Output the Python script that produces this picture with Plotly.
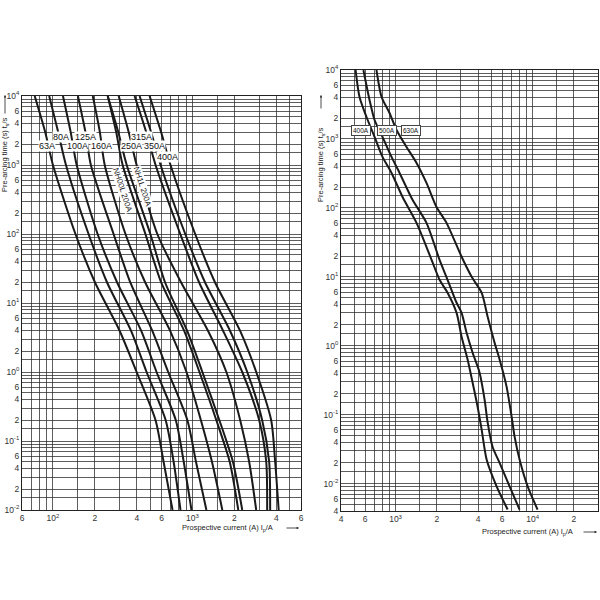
import math
import plotly.graph_objects as go

# ---------------- data: left chart (gG fuses 63A..400A) ----------------
times_left = [10000, 3000, 1000, 100, 20, 4, 1, 0.2, 0.05, 0.01]
left_names = ["63A", "80A", "100A", "125A", "160A", "NH00L 200A", "NH1L 200A",
              "250A", "315A", "350A", "400A"]
cur_63 = [74, 88, 100, 145, 200, 300, 398, 544, 621, 720]
cur_80 = [94, 109, 124, 180, 244, 362, 469, 643, 733, 821]
cur_100 = [118, 134, 148, 209, 288, 428, 553, 760, 866, 984]
cur_125 = [151, 171, 187, 272, 358, 514, 670, 920, 1060, 1259]
cur_160 = [193, 217, 235, 331, 458, 690, 906, 1150, 1380, 1638]
cur_nh00 = [247, 284, 316, 460, 596, 870, 1122, 1484, 1850, 2131]
cur_nh1 = [247, 294, 338, 499, 636, 914, 1178, 1560, 1950, 2275]
cur_250 = [296, 349, 398, 560, 828, 1290, 1750, 2200, 2550, 2865]
cur_315 = [385, 466, 544, 818, 1115, 1655, 2275, 3010, 3380, 3433]
cur_350 = [418, 505, 591, 888, 1230, 1855, 2471, 3162, 3548, 3606]
cur_400 = [493, 596, 696, 1046, 1450, 2190, 2865, 3668, 3917, 4150]
left_currents = [cur_63, cur_80, cur_100, cur_125, cur_160, cur_nh00, cur_nh1,
                 cur_250, cur_315, cur_350, cur_400]

# label anchor points (current A, time s) on the left chart
lbl_text = ["63A", "80A", "100A", "125A", "160A", "250A", "315A", "350A", "400A"]
lbl_I = [91, 114, 149, 172, 224, 368, 434, 538, 667]
lbl_t = [1884, 2547, 1884, 2547, 1884, 1884, 2547, 1884, 1306]
rot_text = ["NH00L 200A", "NH1L 200A"]
rot_I = [318, 434]
rot_t = [434, 480]

# ---------------- data: right chart (400A..630A) ----------------
r_names = ["400A", "500A", "630A"]
r_t_400 = [10000, 4060, 2080, 1070, 548, 321, 144, 60.6, 17.6, 9.05, 5.87, 3.0, 1.35,
           0.63, 0.29, 0.13, 0.061, 0.0223, 0.0091, 0.0042]
r_i_400 = [511, 546, 614, 703, 803, 935, 1125, 1423, 1832, 2095, 2397, 2788, 3033,
           3355, 3651, 3970, 4246, 4618, 5461, 6574]
r_t_500 = [10000, 3670, 1880, 1070, 548, 321, 131, 60.6, 17.6, 9.05, 4.2, 3.0, 1.54,
           0.79, 0.41, 0.165, 0.077, 0.034, 0.020, 0.0091, 0.0042]
r_i_500 = [583, 646, 703, 803, 935, 1070, 1330, 1682, 2095, 2397, 2788, 3033, 3300,
           3651, 4100, 4464, 4700, 5108, 5745, 6793, 8035]
r_t_630 = [10000, 4060, 2380, 1350, 765, 449, 230, 103, 60.6, 19.5, 10, 5.87, 2.63,
           1.1, 0.63, 0.255, 0.094, 0.048, 0.0223, 0.0091, 0.0042]
r_i_630 = [726, 791, 904, 1017, 1203, 1423, 1682, 1990, 2355, 3033, 3590, 4246, 4700,
           5284, 5745, 6457, 7025, 7390, 8035, 9200, 10870]
r_lbl_I = [556, 860, 1286]
r_lbl_t = [1306, 1306, 1306]

# ---------------- tick definitions ----------------
mantissas = [1, 1.5, 2, 3, 4, 5, 6, 7, 8, 9]
labelled = {2: "2", 4: "4", 6: "6"}


def ticks(lo, hi, exps):
    vals, txt = [], []
    for e in exps:
        for m in mantissas:
            v = m * 10 ** e
            if lo * 0.999 <= v <= hi * 1.001:
                vals.append(v)
                if m == 1:
                    txt.append("10<sup>%d</sup>" % e)
                else:
                    txt.append(labelled.get(m, " "))
    return vals, txt


lx_vals, lx_txt = ticks(60, 6000, range(1, 4))
ly_vals, ly_txt = ticks(0.01, 10000, range(-2, 5))
rx_vals, rx_txt = ticks(400, 30000, range(2, 5))
ry_vals, ry_txt = ticks(0.004, 10000, range(-3, 5))

fig = go.Figure()
LINE = dict(color="#1a1a1a", width=2)
for name, cur in zip(left_names, left_currents):
    fig.add_trace(go.Scatter(x=cur, y=times_left, mode="lines", name=name,
                             line=dict(LINE, shape="spline", smoothing=0.7),
                             xaxis="x", yaxis="y", showlegend=False, hoverinfo="skip"))
for name, ti, tt in zip(r_names, [r_i_400, r_i_500, r_i_630], [r_t_400, r_t_500, r_t_630]):
    fig.add_trace(go.Scatter(x=ti, y=tt, mode="lines", name=name,
                             line=dict(LINE, shape="spline", smoothing=0.7),
                             xaxis="x2", yaxis="y2", showlegend=False, hoverinfo="skip"))

FONT = dict(family="Liberation Sans, Arial, sans-serif", size=8.5, color="#333")
GRID = "rgba(40,40,40,0.75)"
common = dict(type="log", showgrid=True, gridcolor=GRID, gridwidth=1, zeroline=False,
              showline=True, linecolor="#222", linewidth=1, mirror=True, ticks="",
              tickfont=FONT, tickmode="array", automargin=False, tickangle=0)

W = 600.0
fig.update_layout(
    width=600, height=600,
    margin=dict(l=0, r=0, t=0, b=0, pad=0, autoexpand=False),
    paper_bgcolor="white", plot_bgcolor="white", showlegend=False,
    xaxis=dict(common, domain=[22 / W, 301 / W], range=[1.7782, 3.7782],
               tickvals=lx_vals, ticktext=lx_txt, anchor="y"),
    yaxis=dict(common, domain=[1 - 510 / W, 1 - 96 / W], range=[-2, 4],
               tickvals=ly_vals, ticktext=ly_txt, anchor="x"),
    xaxis2=dict(common, domain=[341 / W, 598 / W], range=[2.60206, 4.47712],
                tickvals=rx_vals, ticktext=rx_txt, anchor="y2"),
    yaxis2=dict(common, domain=[1 - 511 / W, 1 - 70 / W], range=[-2.39794, 4],
                tickvals=ry_vals, ticktext=ry_txt, anchor="x2"),
)

ann = []
LBLF = dict(family="Liberation Sans, Arial, sans-serif", size=9, color="#111")
for t, xi, yt in zip(lbl_text, lbl_I, lbl_t):
    ann.append(dict(x=math.log10(xi), y=math.log10(yt), xref="x", yref="y", text=t,
                    showarrow=False, font=LBLF, bgcolor="white", borderpad=0,
                    xanchor="center", yanchor="middle"))
for t, xi, yt in zip(rot_text, rot_I, rot_t):
    ann.append(dict(x=math.log10(xi), y=math.log10(yt), xref="x", yref="y", text=t,
                    showarrow=False, textangle=72, font=dict(LBLF, size=8),
                    bgcolor="white", borderpad=0, xanchor="center", yanchor="middle"))
for t, xi, yt in zip(r_names, r_lbl_I, r_lbl_t):
    ann.append(dict(x=math.log10(xi), y=math.log10(yt), xref="x2", yref="y2", text=t,
                    showarrow=False, font=dict(LBLF, size=6.5), bgcolor="white",
                    bordercolor="#444", borderwidth=1, borderpad=1,
                    xanchor="center", yanchor="middle"))

TF = dict(family="Liberation Sans, Arial, sans-serif", size=7.5, color="#222")
CM = dict(xanchor="center", yanchor="middle", xref="paper", yref="paper")
# x-axis titles
ann.append(dict(CM, x=227 / W, y=1 - 528 / W,
                text="Prospective current (A) I<sub>p</sub>/A", showarrow=False, font=TF))
ann.append(dict(CM, x=527 / W, y=1 - 532 / W,
                text="Prospective current (A) I<sub>p</sub>/A", showarrow=False, font=TF))
for hx, hy, dx in [(299, 528, 14), (597, 532, 15)]:
    ann.append(dict(x=hx / W, y=1 - hy / W, xref="paper", yref="paper", text="",
                    showarrow=True, ax=-dx, ay=0, arrowhead=2, arrowsize=0.6,
                    arrowwidth=0.8, arrowcolor="#222"))
# y-axis titles
ann.append(dict(CM, x=5 / W, y=1 - 155 / W,
                text="Pre-arcing time (s) t<sub>s</sub>/s", textangle=-90,
                showarrow=False, font=TF))
ann.append(dict(CM, x=321 / W, y=1 - 165 / W,
                text="Pre-arcing time (s) t<sub>s</sub>/s", textangle=-90,
                showarrow=False, font=TF))
for hx, hy, dy in [(5, 95, 20), (321, 95, 15)]:
    ann.append(dict(x=hx / W, y=1 - hy / W, xref="paper", yref="paper", text="",
                    showarrow=True, ax=0, ay=dy, arrowhead=2, arrowsize=0.6,
                    arrowwidth=0.8, arrowcolor="#222"))

fig.update_layout(annotations=ann)
fig.write_html("out.html", config={"displayModeBar": False},
               post_script="document.body.style.margin='0';document.body.style.padding='0';")
